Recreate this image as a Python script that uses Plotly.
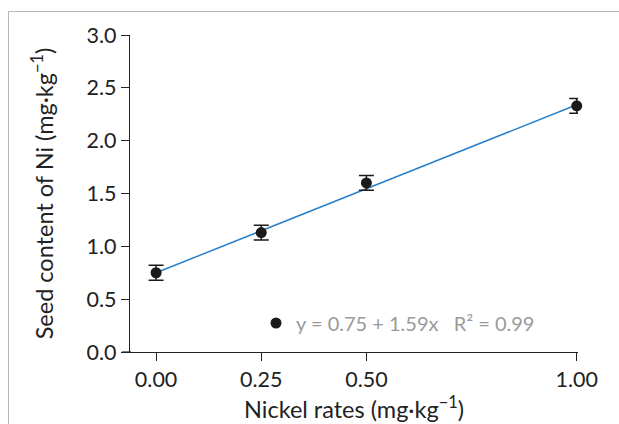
import plotly.graph_objects as go

rates = [0.0, 0.25, 0.5, 1.0]
seed_ni = [0.75, 1.13, 1.60, 2.33]
seed_err = [0.07, 0.07, 0.07, 0.07]
fit_intercept = 0.75
fit_slope = 1.59
x_ticks = [0.0, 0.25, 0.5, 1.0]
x_ticklabels = ["0.00", "0.25", "0.50", "1.00"]
y_ticks = [0.0, 0.5, 1.0, 1.5, 2.0, 2.5, 3.0]
y_ticklabels = ["0.0", "0.5", "1.0", "1.5", "2.0", "2.5", "3.0"]

fit_x = [rates[0], rates[-1]]
fit_y = [fit_intercept + fit_slope * v for v in fit_x]

FONT = "Lato"
fig = go.Figure()
fig.add_trace(go.Scatter(
    x=fit_x, y=fit_y, mode="lines",
    line=dict(color="#2a7fc8", width=1.5),
    showlegend=False, cliponaxis=False,
))
fig.add_trace(go.Scatter(
    x=rates, y=seed_ni, mode="markers",
    marker=dict(color="#1a1a1a", size=11),
    error_y=dict(type="data", array=seed_err, color="#1a1a1a", thickness=1.5, width=7.5),
    name="y = 0.75 + 1.59x   R² = 0.99",
    showlegend=True, cliponaxis=False,
))

W, H = 619, 424
L, R, T, B = 130, 41, 35, 72
pw, ph = W - L - R, H - T - B

def px(xp):
    return (xp - L) / pw

def py(yp):
    return (H - B - yp) / ph

fig.update_layout(
    width=W, height=H,
    margin=dict(l=L, r=R, t=T, b=B, pad=0, autoexpand=False),
    paper_bgcolor="white", plot_bgcolor="white",
    font=dict(family=FONT, color="#222222", size=21),
    legend=dict(
        x=px(256), y=py(323), xanchor="left", yanchor="middle",
        font=dict(family=FONT, size=20, color="#9a9a9a"),
        bgcolor="rgba(0,0,0,0)", borderwidth=0,
    ),
    xaxis=dict(
        range=[-0.062, 1.003], tickvals=x_ticks, ticktext=x_ticklabels, automargin=False,
        showgrid=False, zeroline=False, showline=True, linecolor="#222", linewidth=1.2,
        ticks="outside", ticklen=8, tickcolor="#222", tickwidth=1.2,
        tickfont=dict(family=FONT, size=21.5, color="#222"),
        title=dict(text="Nickel rates (mg·kg<sup>−1</sup>)", font=dict(family=FONT, size=23.5, color="#222"), standoff=10),
    ),
    yaxis=dict(
        range=[0, 3.0], tickvals=y_ticks, ticktext=y_ticklabels, automargin=False,
        showgrid=False, zeroline=False, showline=True, linecolor="#222", linewidth=1.2,
        ticks="outside", ticklen=8, tickcolor="#222", tickwidth=1.2,
        tickfont=dict(family=FONT, size=21.5, color="#222"),
        title=dict(text="Seed content of Ni (mg·kg<sup>−1</sup>)", font=dict(family=FONT, size=23.5, color="#222"), standoff=26),
    ),
    shapes=[
        dict(type="line", xref="paper", yref="paper", x0=px(122), x1=px(131), y0=0, y1=0,
             line=dict(color="#222", width=1.2)),
        dict(type="line", xref="paper", yref="paper", x0=px(8.5), x1=px(8.5), y0=py(H + 5), y1=py(11.5),
             line=dict(color="#b5b5b5", width=1)),
        dict(type="line", xref="paper", yref="paper", x0=px(8.5), x1=px(W + 5), y0=py(11.5), y1=py(11.5),
             line=dict(color="#b5b5b5", width=1)),
    ],
)

fig.write_html("out.html")
